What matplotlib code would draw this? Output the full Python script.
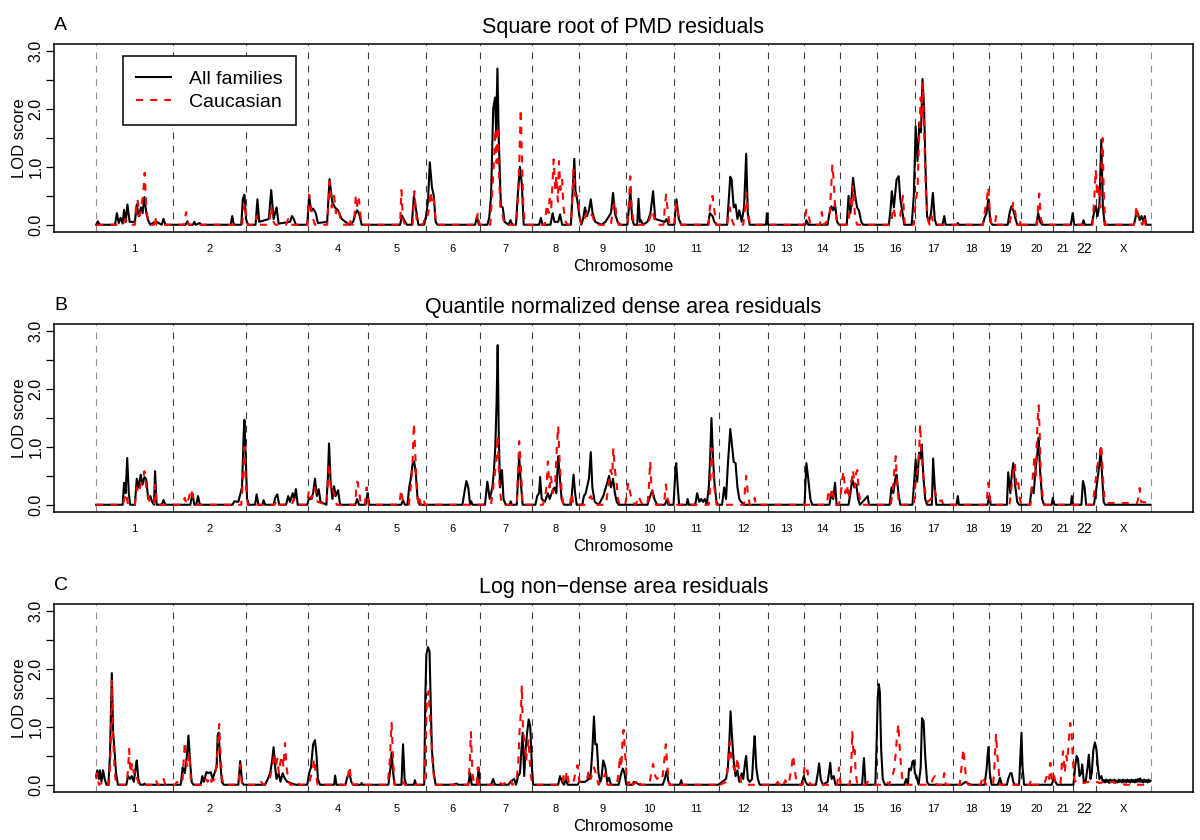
"""Genome-wide LOD score scans, three phenotypes, all families vs Caucasian."""

import numpy as np
import matplotlib
matplotlib.use("Agg")
import matplotlib.pyplot as plt

plt.rcParams["font.family"] = ["Liberation Sans", "DejaVu Sans"]

CHROMS = ["1", "2", "3", "4", "5", "6", "7", "8", "9", "10", "11", "12",
          "13", "14", "15", "16", "17", "18", "19", "20", "21", "22", "X"]
CHROM_LEN_CM = [290, 276, 234, 224, 218, 204, 196, 178, 176, 182, 170, 185,
                137, 134, 139, 143, 144, 137, 120, 121, 75, 87, 206]

# (genome-wide position in cM, LOD)
A_ALL = [
    (0, 0), (6, 0.06), (13, 0), (71, 0), (78, 0.20), (85, 0.03), (92, 0.12), (100, 0.02), (105, 0.26),
    (111, 0.05), (118, 0.35), (126, 0.05), (146, 0.05), (153, 0.35), (160, 0.15), (169, 0.30), (175, 0.20),
    (182, 0.48), (189, 0.20), (196, 0.08), (204, 0), (224, 0.06), (247, 0), (254, 0.10), (261, 0),
    (337, 0), (344, 0.06), (350, 0), (365, 0), (370, 0.05), (375, 0), (391, 0.03), (396, 0),
    (507, 0), (513, 0.15), (519, 0), (547, 0), (553, 0.45), (559, 0.52), (565, 0.10), (572, 0),
    (601, 0), (608, 0.44), (615, 0.05), (651, 0.10), (660, 0.60), (669, 0.10), (680, 0.30), (688, 0.02),
    (731, 0.05), (738, 0.15), (745, 0.10), (753, 0),
    (796, 0), (803, 0.50), (810, 0.25), (818, 0.28), (828, 0.20), (836, 0.03), (871, 0.05), (880, 0.79),
    (890, 0.40), (900, 0.30), (912, 0.25), (926, 0.10), (940, 0.05), (955, 0), (969, 0.05), (977, 0.18),
    (984, 0.25), (991, 0.20), (1001, 0),
    (1146, 0), (1153, 0.16), (1164, 0.06), (1172, 0), (1190, 0), (1198, 0.50), (1208, 0.20), (1215, 0),
    (1237, 0), (1244, 0.16), (1251, 0.40), (1258, 1.08), (1266, 0.65), (1273, 0.50), (1280, 0.05), (1287, 0),
    (1429, 0), (1436, 0.15), (1443, 0), (1475, 0), (1482, 0.12), (1489, 0.50), (1497, 2.00), (1504, 2.20),
    (1508, 1.60), (1513, 2.70), (1518, 1.50), (1526, 0.32), (1533, 0.30), (1540, 0.05), (1555, 0),
    (1562, 0.08), (1569, 0), (1583, 0), (1591, 0.60), (1598, 1.00), (1605, 0.70), (1612, 0),
    (1670, 0), (1677, 0.12), (1683, 0), (1713, 0), (1721, 0.20), (1728, 0.05), (1742, 0.05), (1749, 0.18),
    (1757, 0), (1790, 0), (1797, 0.60), (1803, 1.14), (1807, 0.60), (1815, 0.40), (1822, 0.15), (1829, 0),
    (1836, 0.10), (1843, 0.30), (1851, 0.15), (1858, 0.25), (1865, 0.44), (1872, 0.20), (1882, 0.05),
    (1905, 0), (1920, 0.05), (1941, 0.20), (1949, 0.55), (1956, 0.20), (1966, 0.05), (1977, 0),
    (2003, 0), (2009, 0.30), (2014, 0.60), (2021, 0.10), (2028, 0), (2040, 0), (2045, 0.45), (2050, 0.05),
    (2054, 0.08), (2061, 0), (2079, 0.05), (2090, 0.20), (2100, 0.58), (2108, 0.10), (2144, 0.05),
    (2151, 0.10), (2158, 0), (2180, 0), (2188, 0.44), (2197, 0.10), (2206, 0),
    (2307, 0), (2314, 0.20), (2324, 0.15), (2331, 0.05), (2339, 0),
    (2379, 0), (2386, 0.50), (2391, 0.83), (2396, 0.78), (2404, 0.30), (2411, 0.35), (2418, 0.10),
    (2425, 0.25), (2434, 0.05), (2443, 0.30), (2451, 1.23), (2457, 0.20), (2464, 0),
    (2526, 0), (2529, 0.20), (2534, 0), (2674, 0), (2678, 0.08), (2685, 0), (2758, 0), (2765, 0.20),
    (2772, 0.32), (2779, 0.25), (2786, 0.35), (2794, 0.05), (2801, 0),
    (2830, 0), (2837, 0.50), (2844, 0.20), (2854, 0.81), (2862, 0.50), (2869, 0.30), (2876, 0.25),
    (2885, 0.05), (2892, 0),
    (2989, 0), (2996, 0.30), (3000, 0.58), (3008, 0.30), (3018, 0.78), (3026, 0.84), (3032, 0.45),
    (3039, 0.25), (3047, 0),
    (3075, 0), (3083, 0.50), (3090, 1.70), (3097, 1.10), (3104, 1.76), (3110, 1.60), (3116, 2.52),
    (3122, 2.00), (3127, 1.00), (3133, 0.15), (3140, 0.05), (3148, 0.20), (3155, 0.55), (3162, 0.10),
    (3168, 0), (3191, 0), (3198, 0.15), (3203, 0),
    (3245, 0), (3249, 0.03), (3253, 0), (3343, 0), (3350, 0.12), (3357, 0.20), (3364, 0.44), (3372, 0.05),
    (3379, 0), (3437, 0), (3444, 0.20), (3451, 0.32), (3458, 0.25), (3466, 0.12), (3473, 0),
    (3545, 0), (3552, 0.20), (3559, 0.05), (3567, 0), (3675, 0), (3682, 0.20), (3688, 0), (3718, 0),
    (3723, 0.08), (3728, 0), (3754, 0), (3762, 0.20), (3769, 0.32), (3776, 0.15), (3783, 0.35),
    (3790, 1.47), (3796, 0.30), (3803, 0),
    (3913, 0), (3920, 0.15), (3928, 0.20), (3935, 0.08), (3942, 0.15), (3949, 0.05), (3954, 0.15),
    (3960, 0), (3976, 0),
]

A_CAU = [
    (0, 0), (100, 0), (110, 0.10), (118, 0.05), (124, 0), (146, 0), (150, 0.30), (156, 0.43), (163, 0.15),
    (169, 0.30), (175, 0.45), (179, 0.65), (183, 0.90), (189, 0.30), (196, 0.05), (204, 0), (218, 0),
    (222, 0.15), (228, 0),
    (331, 0), (339, 0.22), (348, 0),
    (550, 0), (556, 0.25), (560, 0.38), (568, 0.05), (573, 0),
    (599, 0), (605, 0.15), (611, 0), (651, 0), (660, 0.32), (669, 0.05), (676, 0), (716, 0), (724, 0.10),
    (731, 0),
    (796, 0), (803, 0.52), (810, 0.30), (818, 0.10), (825, 0), (871, 0), (880, 0.75), (888, 0.30),
    (897, 0.50), (904, 0.20), (912, 0.30), (923, 0.05), (930, 0), (948, 0), (955, 0.12), (962, 0),
    (972, 0), (979, 0.52), (985, 0.30), (991, 0.44), (998, 0.10), (1005, 0),
    (1146, 0), (1151, 0.60), (1157, 0.10), (1164, 0), (1193, 0), (1200, 0.58), (1208, 0.10), (1215, 0),
    (1232, 0), (1240, 0.12), (1247, 0.10), (1254, 0.25), (1261, 0.58), (1267, 0.35), (1273, 0.44),
    (1280, 0.05), (1287, 0),
    (1432, 0), (1439, 0.20), (1446, 0), (1486, 0), (1494, 0.60), (1501, 1.20), (1505, 1.65), (1510, 1.07),
    (1514, 1.70), (1518, 1.00), (1524, 0.30), (1533, 0.15), (1540, 0), (1583, 0), (1591, 0.50),
    (1596, 1.20), (1601, 2.00), (1605, 1.20), (1611, 0.30), (1617, 0),
    (1692, 0), (1699, 0.35), (1706, 0.20), (1710, 0.45), (1716, 0.30), (1725, 1.13), (1731, 0.60),
    (1735, 0.85), (1741, 0.40), (1745, 1.10), (1751, 0.60), (1757, 0.78), (1762, 0.30), (1770, 0.05),
    (1778, 0), (1790, 0), (1796, 0.50), (1800, 0.95), (1806, 0.50), (1815, 0.50), (1822, 0.20),
    (1829, 0), (1843, 0.10), (1851, 0.25), (1861, 0.20), (1872, 0.15), (1882, 0),
    (1941, 0), (1949, 0.30), (1956, 0.40), (1963, 0.10), (1970, 0),
    (2003, 0), (2009, 0.40), (2014, 0.84), (2019, 0.30), (2028, 0), (2079, 0), (2090, 0.15), (2097, 0.25),
    (2105, 0.10), (2112, 0), (2139, 0), (2145, 0.35), (2149, 0.52), (2155, 0.25), (2162, 0), (2180, 0),
    (2188, 0.38), (2197, 0.10), (2206, 0),
    (2310, 0), (2314, 0.30), (2324, 0.50), (2331, 0.25), (2339, 0),
    (2379, 0), (2389, 0.30), (2396, 0.10), (2404, 0), (2440, 0), (2447, 0.30), (2451, 0.55), (2458, 0.20),
    (2466, 0),
    (2668, 0), (2678, 0.26), (2685, 0.20), (2693, 0), (2729, 0), (2736, 0.22), (2743, 0), (2765, 0.10),
    (2771, 0.60), (2776, 1.04), (2782, 0.70), (2786, 0.30), (2794, 0),
    (2837, 0), (2844, 0.44), (2850, 0.30), (2854, 0.67), (2862, 0.10), (2870, 0),
    (2996, 0), (3006, 0.30), (3015, 0.10), (3032, 0.15), (3042, 0.50), (3049, 0),
    (3083, 0), (3090, 0.40), (3097, 0.60), (3103, 1.50), (3109, 2.20), (3113, 1.80), (3117, 2.45),
    (3123, 1.50), (3129, 0.50), (3136, 0.10), (3143, 0), (3150, 0.15), (3158, 0),
    (3343, 0), (3353, 0.30), (3360, 0.50), (3364, 0.65), (3370, 0.20), (3376, 0), (3389, 0), (3393, 0.15),
    (3398, 0),
    (3444, 0), (3451, 0.20), (3458, 0.38), (3466, 0.20), (3473, 0), (3483, 0), (3487, 0.10), (3491, 0),
    (3548, 0), (3552, 0.30), (3556, 0.54), (3562, 0.10), (3570, 0),
    (3757, 0), (3764, 0.50), (3769, 0.95), (3775, 0.50), (3780, 0.70), (3786, 0.30), (3790, 0.90),
    (3795, 1.50), (3799, 0.60), (3805, 0),
    (3913, 0), (3919, 0.15), (3923, 0.33), (3929, 0.10), (3936, 0.10), (3945, 0), (3952, 0.15), (3957, 0),
    (3976, 0),
]

B_ALL = [
    (0, 0), (100, 0), (105, 0.38), (111, 0.20), (117, 0.81), (123, 0.20), (128, 0), (146, 0), (153, 0.45),
    (160, 0.30), (168, 0.52), (175, 0.35), (182, 0.48), (189, 0.44), (196, 0.10), (204, 0.15), (211, 0.05),
    (218, 0), (222, 0.58), (228, 0), (247, 0), (254, 0.08), (261, 0),
    (355, 0), (363, 0.20), (370, 0), (377, 0), (384, 0.15), (391, 0),
    (514, 0), (521, 0.06), (536, 0.05), (550, 0.30), (556, 1.20), (559, 1.47), (563, 0.90), (569, 0.10),
    (576, 0),
    (599, 0), (605, 0.18), (612, 0), (627, 0), (631, 0.08), (637, 0), (669, 0), (675, 0.12), (683, 0.18),
    (690, 0), (716, 0), (724, 0.15), (731, 0.05), (741, 0.20), (747, 0.10), (753, 0.27), (760, 0),
    (796, 0), (803, 0.12), (810, 0.10), (818, 0.20), (825, 0.45), (832, 0.15), (839, 0.27), (846, 0.05),
    (868, 0), (874, 0.50), (878, 1.06), (884, 0.40), (891, 0.10), (897, 0.32), (903, 0.15), (912, 0.25),
    (920, 0), (977, 0), (984, 0.10), (991, 0), (1016, 0), (1023, 0.20), (1030, 0),
    (1150, 0), (1157, 0.08), (1164, 0), (1174, 0), (1180, 0.30), (1186, 0.44), (1193, 0.70), (1199, 0.75),
    (1205, 0.55), (1212, 0.10), (1219, 0),
    (1381, 0), (1388, 0.20), (1396, 0.41), (1403, 0.30), (1410, 0), (1414, 0.06), (1420, 0),
    (1466, 0), (1475, 0.40), (1484, 0.10), (1494, 0.30), (1500, 0.60), (1505, 1.00), (1510, 1.80),
    (1514, 2.76), (1518, 1.20), (1523, 0.30), (1530, 0.60), (1536, 0.10), (1544, 0), (1559, 0),
    (1563, 0.06), (1567, 0), (1586, 0), (1591, 0.50), (1595, 0.84), (1601, 0.40), (1608, 0),
    (1656, 0), (1663, 0.15), (1670, 0.20), (1674, 0.48), (1680, 0.10), (1692, 0.05), (1703, 0.20),
    (1710, 0.10), (1721, 0.25), (1728, 0.30), (1735, 0.20), (1742, 0.84), (1748, 0.50), (1755, 0.10),
    (1764, 0), (1790, 0), (1796, 0.30), (1800, 0.52), (1806, 0.20), (1812, 0),
    (1833, 0), (1839, 0.15), (1846, 0.20), (1853, 0.35), (1858, 0.45), (1865, 0.91), (1871, 0.30),
    (1880, 0.05), (1895, 0), (1912, 0.15), (1922, 0.30), (1934, 0.50), (1941, 0.30), (1949, 0.45),
    (1956, 0.20), (1963, 0.05), (1970, 0),
    (2079, 0), (2089, 0.15), (2097, 0.25), (2105, 0.10), (2115, 0), (2144, 0), (2151, 0.08), (2158, 0),
    (2177, 0), (2183, 0.50), (2187, 0.72), (2193, 0.30), (2198, 0),
    (2226, 0), (2230, 0.10), (2235, 0), (2259, 0), (2266, 0.20), (2274, 0.05), (2281, 0.10), (2288, 0.05),
    (2295, 0.10), (2302, 0), (2310, 0.30), (2315, 0.80), (2320, 1.50), (2326, 0.80), (2331, 0.40),
    (2339, 0.05), (2346, 0),
    (2360, 0), (2368, 0.30), (2375, 0.10), (2382, 0.70), (2391, 1.31), (2398, 1.00), (2404, 0.74),
    (2411, 0.72), (2418, 0.30), (2425, 0.10), (2432, 0.05), (2443, 0),
    (2671, 0), (2678, 0.72), (2685, 0.45), (2693, 0.10), (2700, 0), (2765, 0), (2772, 0.20), (2779, 0.10),
    (2786, 0.38), (2792, 0),
    (2837, 0), (2844, 0.20), (2851, 0.44), (2859, 0.30), (2866, 0.35), (2873, 0.10), (2880, 0),
    (2909, 0.15), (2914, 0),
    (2992, 0), (2999, 0.30), (3006, 0.20), (3013, 0.45), (3018, 0.52), (3025, 0.20), (3032, 0),
    (3078, 0), (3086, 0.50), (3090, 0.78), (3096, 0.40), (3103, 0.90), (3109, 0.80), (3113, 1.04),
    (3119, 0.50), (3126, 0.10), (3133, 0), (3151, 0), (3156, 0.80), (3162, 0.30), (3168, 0),
    (3244, 0), (3249, 0.15), (3253, 0), (3361, 0), (3367, 0.15), (3373, 0), (3434, 0), (3439, 0.56),
    (3447, 0.20), (3452, 0.50), (3458, 0.72), (3466, 0.30), (3473, 0.05), (3480, 0),
    (3520, 0), (3528, 0.30), (3535, 0.20), (3542, 0.60), (3549, 0.90), (3554, 1.16), (3559, 0.60),
    (3567, 0.10), (3574, 0),
    (3603, 0), (3607, 0.12), (3613, 0), (3675, 0), (3679, 0.15), (3684, 0), (3715, 0), (3721, 0.41),
    (3727, 0.30), (3733, 0), (3762, 0), (3769, 0.20), (3776, 0.45), (3783, 0.70), (3788, 0.98),
    (3793, 0.50), (3799, 0.05), (3805, 0), (3976, 0),
]

B_CAU = [
    (0, 0), (100, 0), (113, 0.20), (120, 0), (146, 0), (153, 0.30), (160, 0.20), (168, 0.35), (175, 0.40),
    (182, 0.58), (189, 0.30), (198, 0.10), (206, 0), (218, 0), (222, 0.35), (228, 0),
    (326, 0), (334, 0.12), (341, 0), (348, 0.10), (358, 0.27), (365, 0.10), (374, 0),
    (547, 0), (553, 0.40), (559, 1.00), (565, 0.30), (572, 0),
    (673, 0), (680, 0.08), (688, 0), (738, 0), (745, 0.10), (753, 0),
    (793, 0), (803, 0.25), (813, 0.10), (825, 0.30), (835, 0.05), (868, 0), (878, 0.72), (886, 0.20),
    (893, 0.25), (900, 0.15), (907, 0), (977, 0), (981, 0.30), (985, 0.40), (991, 0.25), (998, 0),
    (1013, 0), (1020, 0.30), (1027, 0),
    (1143, 0), (1150, 0.26), (1157, 0.05), (1179, 0), (1186, 0.30), (1192, 0.60), (1198, 1.41),
    (1203, 0.90), (1209, 0.30), (1215, 0), (1219, 0.10), (1225, 0), (1234, 0.10), (1240, 0),
    (1489, 0), (1497, 0.30), (1504, 0.55), (1510, 0.80), (1514, 1.20), (1520, 0.40), (1526, 0.10),
    (1533, 0), (1586, 0), (1591, 0.60), (1595, 1.10), (1601, 0.70), (1608, 0),
    (1684, 0), (1692, 0.10), (1699, 0.35), (1703, 0.75), (1709, 0.30), (1715, 0.50), (1721, 0.20),
    (1731, 0.40), (1736, 0.90), (1742, 1.36), (1748, 0.70), (1754, 0.30), (1761, 0), (1786, 0),
    (1793, 0.20), (1799, 0),
    (1843, 0), (1865, 0.15), (1880, 0), (1922, 0), (1931, 0.30), (1940, 0.60), (1946, 0.50), (1950, 0.98),
    (1956, 0.60), (1962, 0.40), (1967, 0.10), (1975, 0),
    (1995, 0), (2002, 0.20), (2006, 0.38), (2014, 0.20), (2021, 0.05), (2035, 0), (2045, 0.15),
    (2054, 0.05), (2061, 0), (2079, 0), (2084, 0.30), (2089, 0.75), (2094, 0.30), (2102, 0.10), (2110, 0),
    (2141, 0), (2148, 0.35), (2155, 0.10), (2162, 0),
    (2310, 0), (2315, 0.30), (2320, 0.98), (2326, 0.60), (2331, 0.30), (2339, 0),
    (2443, 0), (2447, 0.30), (2451, 0.50), (2457, 0.20), (2464, 0), (2480, 0), (2483, 0.12), (2487, 0),
    (2755, 0), (2762, 0.25), (2769, 0.15), (2775, 0.30), (2781, 0.10), (2789, 0),
    (2801, 0), (2808, 0.20), (2812, 0.40), (2818, 0.58), (2825, 0.20), (2831, 0.35), (2837, 0.10),
    (2844, 0.35), (2850, 0.45), (2854, 0.60), (2860, 0.30), (2866, 0.55), (2870, 0.60), (2876, 0.20),
    (2883, 0),
    (2996, 0), (3003, 0.20), (3009, 0.55), (3015, 0.84), (3020, 0.30), (3028, 0),
    (3083, 0), (3090, 0.40), (3097, 0.60), (3103, 0.90), (3107, 1.39), (3113, 0.80), (3119, 0.50),
    (3127, 0.20), (3136, 0.05), (3148, 0.10), (3155, 0.20), (3162, 0.25), (3169, 0.10), (3176, 0.05),
    (3188, 0.08), (3195, 0),
    (3357, 0), (3364, 0.38), (3370, 0.10), (3376, 0), (3444, 0), (3451, 0.30), (3458, 0.55), (3464, 0.72),
    (3470, 0.30), (3477, 0.38), (3483, 0.10), (3489, 0),
    (3523, 0), (3530, 0.40), (3538, 0.84), (3543, 0.50), (3549, 1.40), (3554, 1.72), (3558, 1.20),
    (3562, 0.50), (3570, 0.10), (3577, 0),
    (3757, 0), (3766, 0.30), (3773, 0.60), (3780, 0.80), (3786, 0.90), (3790, 1.04), (3796, 0.50),
    (3802, 0.10), (3809, 0.03), (3925, 0.03), (3930, 0.12), (3935, 0.29), (3940, 0.05), (3976, 0.03),
]

C_ALL = [
    (0, 0.15), (4, 0.25), (10, 0.10), (14, 0.25), (20, 0.05), (26, 0.25), (32, 0.10), (39, 0), (46, 0),
    (52, 0.50), (56, 1.30), (59, 1.93), (64, 0.90), (69, 0.60), (75, 0.20), (82, 0), (114, 0), (120, 0.15),
    (127, 0.10), (134, 0.15), (142, 0.05), (149, 0.30), (153, 0.42), (159, 0.10), (166, 0), (178, 0),
    (182, 0.02), (186, 0),
    (319, 0), (326, 0.30), (334, 0.20), (342, 0.50), (348, 0.85), (354, 0.40), (360, 0.05), (367, 0),
    (394, 0), (400, 0.15), (406, 0.05), (416, 0.22), (423, 0.20), (432, 0.22), (439, 0.10), (446, 0.20),
    (454, 0.30), (458, 0.85), (462, 0.90), (468, 0.40), (474, 0.05), (481, 0), (536, 0), (543, 0.41),
    (550, 0.05), (556, 0),
    (637, 0), (647, 0.10), (656, 0.20), (663, 0.40), (669, 0.65), (675, 0.30), (680, 0.10), (688, 0.20),
    (695, 0.05), (703, 0.20), (712, 0.10), (721, 0.05), (738, 0.02), (753, 0),
    (796, 0), (803, 0.20), (810, 0.30), (818, 0.70), (825, 0.77), (831, 0.50), (836, 0.10), (844, 0),
    (897, 0), (901, 0.16), (906, 0), (940, 0), (948, 0.15), (955, 0.20), (962, 0.05), (969, 0), (998, 0),
    (1001, 0.03), (1005, 0),
    (1102, 0), (1110, 0.30), (1114, 0.56), (1120, 0.20), (1125, 0), (1151, 0), (1157, 0.70), (1163, 0.10),
    (1169, 0), (1198, 0), (1202, 0.08), (1206, 0),
    (1237, 0), (1241, 1.50), (1245, 2.25), (1251, 2.38), (1257, 2.30), (1261, 1.50), (1266, 0.60),
    (1273, 0.20), (1280, 0), (1345, 0), (1359, 0.02), (1365, 0), (1403, 0), (1410, 0.20), (1416, 0),
    (1437, 0), (1442, 0.30), (1446, 0),
    (1489, 0), (1497, 0.10), (1504, 0), (1555, 0), (1562, 0.05), (1576, 0.10), (1583, 0), (1591, 0.15),
    (1598, 0.20), (1602, 0.50), (1608, 0.90), (1614, 0.15), (1619, 0.60), (1625, 0.90), (1631, 1.13),
    (1637, 1.00), (1643, 0.30), (1648, 0),
    (1742, 0), (1749, 0.15), (1757, 0.05), (1764, 0), (1771, 0.10), (1778, 0), (1815, 0), (1822, 0.05),
    (1843, 0.05), (1858, 0.10), (1865, 0.20), (1871, 0.60), (1877, 1.18), (1882, 0.70), (1888, 0.70),
    (1894, 0.20), (1901, 0.05), (1905, 0.10), (1912, 0.42), (1920, 0.30), (1927, 0.05), (1934, 0.12),
    (1941, 0), (1970, 0), (1980, 0.20), (1986, 0.28), (1992, 0.20), (1999, 0), (2021, 0), (2028, 0.05),
    (2042, 0.02), (2050, 0),
    (2136, 0), (2144, 0.10), (2151, 0.24), (2158, 0.05), (2165, 0), (2201, 0), (2206, 0.08), (2210, 0),
    (2346, 0), (2360, 0.05), (2375, 0.10), (2382, 0.30), (2388, 0.80), (2392, 1.27), (2398, 0.80),
    (2404, 0.40), (2411, 0.15), (2418, 0.25), (2425, 0.05), (2434, 0.20), (2440, 0.10), (2447, 0.40),
    (2451, 0.50), (2457, 0.10), (2464, 0.05), (2473, 0.10), (2479, 0.60), (2483, 0.84), (2489, 0.30),
    (2495, 0.10), (2502, 0),
    (2659, 0), (2668, 0.15), (2675, 0.05), (2682, 0), (2714, 0), (2721, 0.20), (2726, 0.37), (2732, 0.10),
    (2740, 0), (2758, 0.05), (2763, 0.20), (2768, 0.38), (2773, 0.10), (2781, 0.15), (2788, 0),
    (2888, 0), (2895, 0.46), (2901, 0),
    (2938, 0), (2942, 0.60), (2947, 1.50), (2951, 1.74), (2955, 1.60), (2960, 0.60), (2966, 0.10),
    (2974, 0), (3047, 0), (3054, 0.10), (3061, 0), (3065, 0.28), (3072, 0.25), (3078, 0.40), (3083, 0.42),
    (3087, 0.20), (3093, 0.15), (3101, 0), (3109, 0.30), (3114, 1.15), (3120, 1.10), (3126, 0.50),
    (3133, 0.05), (3140, 0),
    (3263, 0), (3278, 0.05), (3289, 0.02), (3299, 0),
    (3350, 0), (3357, 0.25), (3364, 0.65), (3370, 0.20), (3376, 0), (3400, 0), (3408, 0.12), (3415, 0),
    (3434, 0), (3439, 0.10), (3447, 0.20), (3452, 0.20), (3458, 0.05), (3463, 0),
    (3480, 0), (3486, 0.60), (3489, 0.90), (3493, 0.30), (3499, 0),
    (3603, 0), (3610, 0.10), (3617, 0.05), (3624, 0),
    (3685, 0), (3691, 0.30), (3697, 0.50), (3702, 0.45), (3708, 0.15), (3714, 0.20), (3718, 0.35),
    (3724, 0.05), (3731, 0.05), (3738, 0.30), (3743, 0.52), (3749, 0.10), (3754, 0.20), (3760, 0.60),
    (3766, 0.73), (3772, 0.60), (3777, 0.30), (3783, 0.10), (3790, 0.15), (3796, 0.05),
    (3800, 0.08), (3804, 0.04), (3808, 0.09), (3812, 0.05), (3816, 0.08), (3820, 0.03), (3824, 0.09),
    (3828, 0.05), (3832, 0.08), (3836, 0.04), (3840, 0.09), (3844, 0.05), (3848, 0.07), (3852, 0.04),
    (3856, 0.09), (3860, 0.05), (3864, 0.08), (3868, 0.04), (3872, 0.09), (3876, 0.05), (3880, 0.08),
    (3884, 0.04), (3888, 0.09), (3892, 0.05), (3896, 0.08), (3900, 0.04), (3904, 0.09), (3908, 0.05),
    (3912, 0.08), (3916, 0.04), (3920, 0.09), (3924, 0.05), (3928, 0.10), (3932, 0.05), (3936, 0.11),
    (3940, 0.05), (3944, 0.08), (3948, 0.04), (3952, 0.09), (3956, 0.05), (3960, 0.08), (3964, 0.04),
    (3968, 0.09), (3972, 0.05), (3976, 0.07),
]

C_CAU = [
    (0, 0.10), (4, 0.20), (10, 0), (30, 0.05), (39, 0), (48, 0), (52, 0.30), (56, 0.90), (59, 1.80),
    (64, 0.80), (69, 0.30), (75, 0), (114, 0), (121, 0.30), (124, 0.62), (130, 0.20), (136, 0.38),
    (142, 0.20), (149, 0.25), (155, 0.10), (162, 0), (218, 0), (225, 0.08), (232, 0), (247, 0),
    (254, 0.10), (261, 0),
    (297, 0), (305, 0.05), (312, 0), (326, 0.10), (334, 0.74), (339, 0.40), (345, 0.30), (351, 0.55),
    (357, 0.10), (363, 0), (406, 0), (413, 0.10), (420, 0.05), (428, 0.15), (435, 0.05), (446, 0.10),
    (454, 0.35), (459, 0.70), (464, 1.05), (469, 0.50), (475, 0.10), (481, 0), (536, 0), (543, 0.35),
    (550, 0),
    (615, 0), (622, 0.05), (630, 0), (651, 0.05), (659, 0.20), (666, 0.35), (672, 0.55), (677, 0.30),
    (683, 0.45), (689, 0.20), (695, 0.40), (701, 0.50), (706, 0.30), (712, 0.72), (718, 0.30),
    (724, 0.10), (732, 0), (753, 0), (760, 0.05), (767, 0),
    (800, 0), (810, 0.15), (818, 0.30), (822, 0.45), (828, 0.20), (835, 0), (940, 0), (948, 0.10),
    (955, 0.32), (962, 0.05), (969, 0), (998, 0.02), (1003, 0),
    (1099, 0), (1107, 0.40), (1114, 1.07), (1120, 0.40), (1125, 0), (1150, 0), (1157, 0.05), (1163, 0),
    (1237, 0), (1241, 0.50), (1247, 1.48), (1254, 1.62), (1260, 1.00), (1266, 0.60), (1270, 0.30),
    (1277, 0), (1403, 0), (1409, 0.40), (1413, 0.91), (1419, 0.20), (1424, 0), (1435, 0), (1439, 0.30),
    (1443, 0),
    (1504, 0), (1518, 0.05), (1533, 0), (1547, 0.05), (1562, 0.10), (1569, 0), (1583, 0.05), (1591, 0.30),
    (1596, 0.90), (1602, 1.30), (1605, 1.72), (1609, 1.00), (1615, 0.70), (1621, 0.40), (1625, 0.60),
    (1630, 0.79), (1635, 0.40), (1641, 0.10), (1648, 0),
    (1757, 0), (1764, 0.20), (1770, 0.10), (1775, 0.24), (1781, 0.05), (1793, 0.10), (1800, 0.05),
    (1807, 0.20), (1815, 0.34), (1822, 0.05), (1851, 0.10), (1858, 0.25), (1865, 0.10), (1877, 0.30),
    (1887, 0.15), (1894, 0), (1912, 0.10), (1920, 0.20), (1927, 0), (1963, 0), (1970, 0.20), (1975, 0.50),
    (1980, 0.30), (1985, 0.80), (1989, 0.95), (1995, 0.50), (2001, 0.10), (2006, 0), (2018, 0.10),
    (2024, 0), (2038, 0.05), (2045, 0.10), (2053, 0),
    (2086, 0), (2093, 0.20), (2100, 0.36), (2108, 0.15), (2115, 0.10), (2122, 0.15), (2129, 0.10),
    (2136, 0.15), (2142, 0.40), (2148, 0.70), (2154, 0.30), (2161, 0),
    (2339, 0), (2346, 0.05), (2353, 0), (2375, 0.05), (2382, 0.30), (2389, 0.74), (2396, 0.40),
    (2404, 0.30), (2411, 0.20), (2418, 0.47), (2425, 0.20), (2432, 0.05), (2440, 0),
    (2562, 0), (2570, 0.05), (2577, 0), (2584, 0.05), (2591, 0), (2599, 0.08), (2606, 0), (2613, 0.05),
    (2622, 0.30), (2628, 0.51), (2633, 0.30), (2639, 0.10), (2645, 0), (2664, 0), (2671, 0.30),
    (2677, 0.20), (2682, 0.25), (2688, 0.05), (2694, 0),
    (2794, 0), (2801, 0.30), (2807, 0), (2841, 0), (2847, 0.30), (2851, 0.93), (2856, 0.50), (2860, 0.60),
    (2864, 0.20), (2870, 0), (2902, 0), (2909, 0.05), (2916, 0),
    (2967, 0), (2981, 0.05), (2990, 0), (2996, 0.10), (3003, 0.15), (3010, 0.30), (3016, 0.60),
    (3020, 0.85), (3025, 1.05), (3029, 0.70), (3035, 0.30), (3041, 0.05), (3049, 0),
    (3148, 0), (3155, 0.10), (3162, 0.15), (3169, 0), (3191, 0), (3198, 0.20), (3203, 0),
    (3256, 0), (3263, 0.30), (3270, 0.62), (3276, 0.30), (3282, 0.05), (3289, 0),
    (3335, 0), (3343, 0.15), (3350, 0.05), (3357, 0), (3382, 0), (3387, 0.30), (3393, 0.88), (3398, 0.50),
    (3402, 0.30), (3408, 0), (3520, 0), (3526, 0.10), (3532, 0),
    (3574, 0), (3581, 0.10), (3588, 0.20), (3594, 0.10), (3598, 0.38), (3604, 0.10), (3610, 0.20),
    (3617, 0.05), (3624, 0), (3636, 0), (3642, 0.40), (3646, 0.58), (3652, 0.20), (3658, 0.50),
    (3662, 0.40), (3668, 0.80), (3673, 1.07), (3678, 0.90), (3682, 0.50), (3688, 0.10), (3697, 0.03),
    (3710, 0.05), (3725, 0.03), (3740, 0.05), (3755, 0.03), (3770, 0.05), (3785, 0.03), (3800, 0.05),
    (3815, 0.03), (3830, 0.05), (3845, 0.03), (3860, 0.04), (3870, 0.03), (3878, 0), (3976, 0),
]

PANELS = [
    ("A", "Square root of PMD residuals", A_ALL, A_CAU),
    ("B", "Quantile normalized dense area residuals", B_ALL, B_CAU),
    ("C", "Log non\u2212dense area residuals", C_ALL, C_CAU),
]


def main():
    bounds = np.concatenate([[0], np.cumsum(CHROM_LEN_CM)])
    mids = (bounds[:-1] + bounds[1:]) / 2
    span = bounds[-1]

    fig = plt.figure(figsize=(12, 8.4), dpi=100)
    for k, (letter, title, all_fam, cauc) in enumerate(PANELS):
        ax = fig.add_axes([0.045, 1 - (231.7 + 280 * k) / 840, 0.949, 187.4 / 840])

        for i, b in enumerate(bounds):
            col = "#8c8c8c" if i in (0, len(bounds) - 1) else "#3a3a3a"
            ax.axvline(b, color=col, lw=0.8, ls=(0, (6, 6)), zorder=1)

        x1, y1 = zip(*all_fam)
        x2, y2 = zip(*cauc)
        ax.plot(x1, y1, color="black", lw=1.5, label="All families", zorder=3)
        ax.plot(x2, y2, color="#ff0000", lw=1.5, ls=(0, (3.4, 3.4)), label="Caucasian", zorder=4)

        ax.set_xlim(-0.04 * span, 1.04 * span)
        ax.set_ylim(-0.12, 3.12)
        ax.set_xticks([])
        ax.set_yticks([0, 0.5, 1, 1.5, 2, 2.5, 3])
        ax.set_yticklabels(["0.0", "", "1.0", "", "2.0", "", "3.0"], rotation=90, va="center")
        ax.tick_params(axis="y", length=5.5, width=0.9, pad=2, labelsize=11.5)
        for s in ax.spines.values():
            s.set_linewidth(1.1)

        for name, m in zip(CHROMS, mids):
            ax.text(m, -0.092, name, transform=ax.get_xaxis_transform(), ha="center", va="center",
                    fontsize=10 if name == "22" else 8)
        ax.text(0.5, -0.188, "Chromosome", transform=ax.transAxes, ha="center", va="center", fontsize=12)
        ax.text(-0.0299, 0.5, "LOD score", transform=ax.transAxes, rotation=90,
                ha="center", va="center", fontsize=12)
        ax.text(0.5, 1.092, title, transform=ax.transAxes, ha="center", va="center", fontsize=15.5)
        ax.text(0.0, 1.098, letter, transform=ax.transAxes, ha="left", va="center", fontsize=14)

        if k == 0:
            leg = ax.legend(loc="upper left", bbox_to_anchor=(0.0603, 0.936), borderaxespad=0,
                            fontsize=14, handlelength=1.8, handletextpad=0.9, borderpad=0.7,
                            labelspacing=0.3, fancybox=False, framealpha=1, edgecolor="black")
            leg.get_frame().set_linewidth(1.1)

    fig.savefig("out.png", dpi=100)


if __name__ == "__main__":
    main()
